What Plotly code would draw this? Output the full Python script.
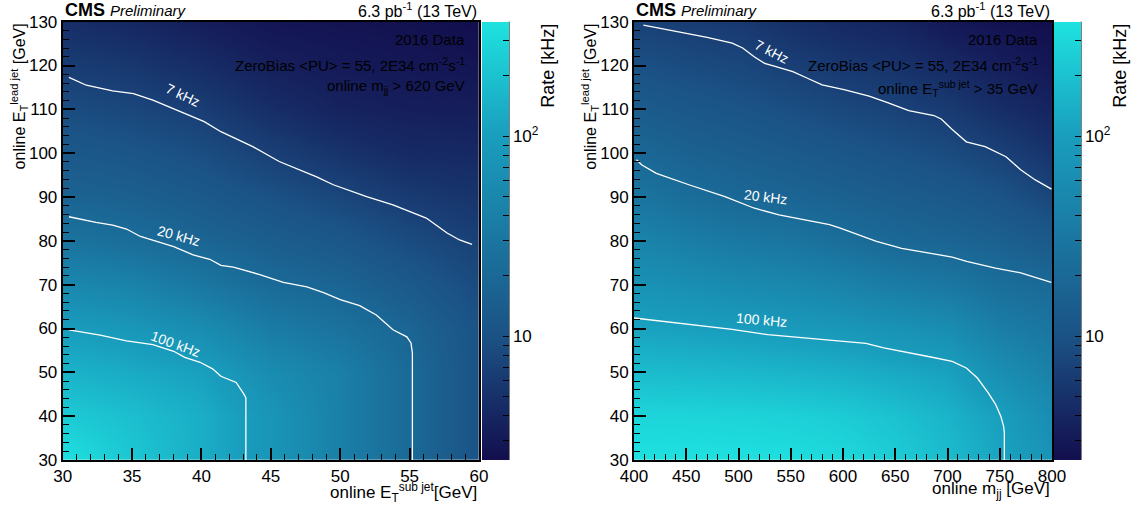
import numpy as np
import plotly.graph_objects as go

# ---------------- data ----------------
left_x = [30, 35, 40, 45, 50, 55, 60]                     # online E_T sub jet [GeV]
left_y = [30, 40, 50, 60, 70, 80, 90, 100, 110, 120, 130]  # online E_T lead jet [GeV]
left_rate = [                                              # rate [kHz], rows = left_y
    [372, 226, 137, 78.5, 40, 20.5, 10.3],
    [238, 188, 137, 78.5, 40, 20.5, 10.3],
    [152, 130, 106, 60, 40, 20.5, 10.3],
    [98, 83, 60, 36, 26.4, 17.9, 10.3],
    [52, 44, 31, 21, 17.5, 12.5, 8.5],
    [28, 23, 17.8, 14.3, 11.7, 8.7, 6.9],
    [17.3, 15.4, 12.7, 9.9, 7.8, 6.1, 5.3],
    [12.4, 11.0, 9.1, 6.8, 5.2, 4.3, 4.2],
    [9.0, 7.9, 6.5, 4.7, 3.7, 3.4, 3.3],
    [6.4, 5.7, 4.6, 3.5, 3.1, 2.9, 2.8],
    [4.7, 4.1, 3.3, 2.8, 2.7, 2.6, 2.4],
]

right_x = [400, 450, 500, 550, 600, 650, 700, 750, 800]    # online m_jj [GeV]
right_y = [30, 40, 50, 60, 70, 80, 90, 100, 110, 120, 130]
right_rate = [
    [370, 370, 365, 350, 310, 250, 180, 115, 72],
    [291, 288, 281, 267, 240, 199, 152, 102, 60],
    [181, 174, 166, 156, 144, 126, 109, 64, 42],
    [112, 105, 98, 90, 83, 72, 61, 38, 29],
    [71, 64, 56, 51, 44, 36, 31, 23.7, 20.4],
    [46, 38, 32, 28.6, 23.5, 19.2, 17.7, 15.5, 12.5],
    [29.5, 23, 19.3, 17.7, 15.7, 13.9, 12.4, 10.4, 7.7],
    [19.2, 16.1, 14.4, 12.8, 11.3, 10.0, 8.7, 7.0, 5.2],
    [13.7, 11.9, 10.7, 9.3, 8.1, 7.2, 6.1, 4.7, 3.8],
    [9.8, 8.7, 7.9, 6.7, 5.8, 5.2, 4.3, 3.4, 2.9],
    [7.0, 6.4, 5.9, 4.9, 4.2, 3.8, 3.0, 2.6, 2.4],
]

# contour lines (iso-rate curves)
left_c100_x = [30.45, 32.7, 34.6, 36.5, 38, 38.8, 39.9, 40.8, 41.4, 42.5, 43, 43.2, 43.2]
left_c100_y = [59.7, 58.5, 57.2, 56.3, 54.8, 53.4, 52.3, 50.8, 49.1, 47.7, 45.3, 44.2, 30]
left_c20_x = [30.45, 32.4, 33.6, 34.6, 35.6, 36.5, 38, 39.4, 40.6, 41.4, 42.3, 44.2, 45.9,
              47.6, 48.8, 50, 51.4, 52.6, 53.8, 54.8, 55.1, 55.2, 55.2]
left_c20_y = [85.5, 84.2, 83.6, 82.7, 81.0, 80.2, 78.7, 76.8, 75.8, 74.4, 74.0, 72.3, 70.5,
              69.5, 68.2, 66.6, 65.2, 63.1, 59.7, 58.1, 56.7, 54.4, 30]
left_c7_x = [30.45, 31.7, 33.6, 35.1, 36.5, 38.3, 40.2, 41.4, 43.7, 45.6, 48.3, 49.5, 51.9,
             53.8, 56.2, 56.9, 57.7, 58.6, 59.5]
left_c7_y = [117.3, 115.5, 114.2, 113.6, 112.1, 109.8, 107.2, 104.9, 101.5, 98.1, 94.6, 92.8,
             90.1, 88.2, 85.2, 83.6, 81.8, 80.2, 79.2]

right_c100_x = [400, 442, 494, 528, 563, 597, 622, 639, 666, 684, 704.5, 718, 728.6, 739, 746,
                751, 753.7, 754.4, 754.4]
right_c100_y = [62.4, 61.3, 59.8, 58.6, 57.9, 57.1, 56.6, 55.6, 54.4, 53.5, 52.5, 51, 48.7, 45.3,
                42.7, 40, 37.7, 36.2, 30]
right_c20_x = [402.4, 407.6, 421.4, 452.5, 487, 514.6, 538.7, 562.9, 587.1, 597.4, 614.7, 632,
               656.1, 676.8, 704.5, 718.3, 745.9, 770.1, 799.3]
right_c20_y = [98.5, 97.3, 95.4, 92.8, 90.1, 87.5, 85.9, 84.8, 83.7, 82.9, 81.4, 79.9, 78.3,
               77.4, 76.3, 75.3, 73.8, 72.7, 70.5]
right_c7_x = [409, 442, 470, 494, 504, 515, 525, 535, 552, 566, 580, 601, 625, 642, 663, 687,
              694, 704, 718, 736, 756, 770, 784, 799.5]
right_c7_y = [129.2, 127.7, 126.4, 125.1, 124, 122, 120.5, 119.8, 118.6, 117.1, 115.6, 114.5,
              113, 111.6, 109.7, 108.6, 107.8, 105.5, 102.6, 101.5, 99.2, 96.2, 93.9, 91.8]

contour_names = ["100 kHz", "20 kHz", "7 kHz"]
left_label_pos = [(38.15, 56.5, 20), (38.4, 81.1, 15), (38.65, 113.3, 25)]
right_label_pos = [(522.2, 62.0, 5), (526.3, 90.1, 7), (532.5, 123.2, 27)]

z_min_rate, z_max_rate = 2.4, 372
cbar_minor = [3, 4, 5, 6, 7, 8, 9, 10, 20, 30, 40, 50, 60, 70, 80, 90, 100, 200, 300]
cbar_major = {10: "10", 100: "10<sup>2</sup>"}

# ---------------- layout geometry (pixels) ----------------
W, H = 1135, 511
FONT = "Liberation Sans, Arial, Helvetica, sans-serif"
plot_top, plot_bot = 21.7, 460.0
L_x0, L_x1 = 62.7, 479.0
R_x0, R_x1 = 634.0, 1052.0
L_cb0, R_cb0 = 482.0, 1054.0
CB_W = 27


def px(xp):
    return xp / W


def py(yp):
    return 1 - yp / H


colorscale = [
    [0.0, "rgb(19,14,78)"],
    [0.283, "rgb(27,82,133)"],
    [0.742, "rgb(25,158,190)"],
    [1.0, "rgb(30,226,224)"],
]
zmin, zmax = np.log10(z_min_rate), np.log10(z_max_rate)


def colorbar(x0):
    return dict(
        x=px(x0), xanchor="left", xpad=0, ypad=0,
        y=py(plot_bot), yanchor="bottom",
        len=(plot_bot - plot_top) / H, lenmode="fraction",
        thickness=CB_W, thicknessmode="pixels",
        outlinewidth=0,
        tickmode="array",
        tickvals=list(np.log10(cbar_minor)),
        ticktext=[cbar_major.get(v, "") for v in cbar_minor],
        ticks="inside", ticklen=6, tickwidth=1, tickcolor="black",
        tickfont=dict(family=FONT, size=17, color="black"),
    )


fig = go.Figure()
fig.add_trace(go.Heatmap(
    x=left_x, y=left_y, z=np.log10(np.array(left_rate)),
    zmin=zmin, zmax=zmax, colorscale=colorscale, zsmooth="best",
    colorbar=colorbar(L_cb0), hoverinfo="skip", xaxis="x", yaxis="y"))
fig.add_trace(go.Heatmap(
    x=right_x, y=right_y, z=np.log10(np.array(right_rate)),
    zmin=zmin, zmax=zmax, colorscale=colorscale, zsmooth="best",
    colorbar=colorbar(R_cb0), hoverinfo="skip", xaxis="x2", yaxis="y2"))

line_style = dict(color="white", width=1.3)
for cx, cy in [(left_c100_x, left_c100_y), (left_c20_x, left_c20_y), (left_c7_x, left_c7_y)]:
    fig.add_trace(go.Scatter(x=cx, y=cy, mode="lines", line=line_style,
                             showlegend=False, hoverinfo="skip", xaxis="x", yaxis="y"))
for cx, cy in [(right_c100_x, right_c100_y), (right_c20_x, right_c20_y), (right_c7_x, right_c7_y)]:
    fig.add_trace(go.Scatter(x=cx, y=cy, mode="lines", line=line_style,
                             showlegend=False, hoverinfo="skip", xaxis="x2", yaxis="y2"))

annotations = []
for name, (lx, ly, ang) in zip(contour_names, left_label_pos):
    annotations.append(dict(x=lx, y=ly, xref="x", yref="y", text=name, showarrow=False,
                            textangle=ang, font=dict(family=FONT, size=14, color="white")))
for name, (lx, ly, ang) in zip(contour_names, right_label_pos):
    annotations.append(dict(x=lx, y=ly, xref="x2", yref="y2", text=name, showarrow=False,
                            textangle=ang, font=dict(family=FONT, size=14, color="white")))


def ptext(x, y, text, size, xanchor="left", yanchor="middle", angle=0):
    annotations.append(dict(x=px(x), y=py(y), xref="paper", yref="paper", text=text,
                            showarrow=False, xanchor=xanchor, yanchor=yanchor, textangle=angle,
                            font=dict(family=FONT, size=size, color="black")))


for x0, x1, cb0, sel in [(L_x0, L_x1, L_cb0, "left"), (R_x0, R_x1, R_cb0, "right")]:
    ptext(x0, 10, "<b>CMS</b> <i><span style='font-size:15px'>Preliminary</span></i>", 18)
    ptext(x1, 10, "6.3 pb<sup>-1</sup> (13 TeV)", 16, xanchor="right")
    ptext(x1 - 12, 39.5, "2016 Data", 15, xanchor="right")
    ptext(x1 - 12, 65, "ZeroBias &lt;PU&gt; = 55, 2E34 cm<sup>-2</sup>s<sup>-1</sup>", 15,
          xanchor="right")
    if sel == "left":
        ptext(x1 - 12, 86, "online m<sub>jj</sub> &gt; 620 GeV", 15, xanchor="right")
        ptext(x1, 492, "online E<sub>T</sub><sup>sub jet</sup>[GeV]", 17, xanchor="right")
    else:
        ptext(x1 - 12, 88, "online E<sub>T</sub><sup>sub jet</sup> &gt; 35 GeV", 15,
              xanchor="right")
        ptext(x1, 490, "online m<sub>jj</sub> [GeV]", 17, xanchor="right")
    ptext(x0 - 44, plot_top, "online E<sub>T</sub><sup>lead jet</sup> [GeV]", 16,
          xanchor="center", yanchor="top", angle=-90)
    ptext(cb0 + 66, plot_top, "Rate [kHz]", 18, xanchor="center", yanchor="top", angle=-90)

# colorbar right edge line + major ticks
shapes = []
for cb0 in (L_cb0, R_cb0):
    xr = cb0 + CB_W
    shapes.append(dict(type="line", xref="paper", yref="paper", x0=px(xr), x1=px(xr),
                       y0=py(plot_bot), y1=py(plot_top), line=dict(color="black", width=1)))
    for v in cbar_major:
        frac = (np.log10(v) - zmin) / (zmax - zmin)
        yy = plot_bot - frac * (plot_bot - plot_top)
        shapes.append(dict(type="line", xref="paper", yref="paper", x0=px(xr - 11), x1=px(xr),
                           y0=py(yy), y1=py(yy), line=dict(color="black", width=1.5)))


def xaxis(x0, x1, rng, dtick, minor, anchor):
    return dict(domain=[px(x0), px(x1)], range=rng, anchor=anchor, showgrid=False,
                zeroline=False, showline=True, mirror=True, linecolor="black", linewidth=2,
                ticks="inside", ticklen=12, tickwidth=1.5, tickcolor="black",
                tick0=rng[0], dtick=dtick, automargin=False,
                minor=dict(ticks="inside", ticklen=6, tickwidth=1, tickcolor="black",
                           dtick=minor, showgrid=False),
                tickfont=dict(family=FONT, size=17, color="black"))


def yaxis(anchor):
    return dict(domain=[py(plot_bot), py(plot_top)], range=[30, 130], anchor=anchor,
                showgrid=False, zeroline=False, showline=True, mirror=True, linecolor="black",
                linewidth=2, ticks="inside", ticklen=12, tickwidth=1.5, tickcolor="black",
                tick0=30, dtick=10, automargin=False,
                minor=dict(ticks="inside", ticklen=6, tickwidth=1, tickcolor="black", dtick=2,
                           showgrid=False),
                tickfont=dict(family=FONT, size=17, color="black"))


fig.update_layout(
    width=W, height=H, margin=dict(l=0, r=0, t=0, b=0, autoexpand=False),
    paper_bgcolor="white", plot_bgcolor="white", showlegend=False,
    xaxis=xaxis(L_x0, L_x1, [30, 60], 5, 1, "y"),
    yaxis=yaxis("x"),
    xaxis2=xaxis(R_x0, R_x1, [400, 800], 50, 10, "y2"),
    yaxis2=yaxis("x2"),
    annotations=annotations, shapes=shapes,
    font=dict(family=FONT),
)

fig.write_html("out.html",
               config={"displayModeBar": False},
               post_script="document.body.style.margin='0px';"
                           "document.body.style.padding='0px';")
